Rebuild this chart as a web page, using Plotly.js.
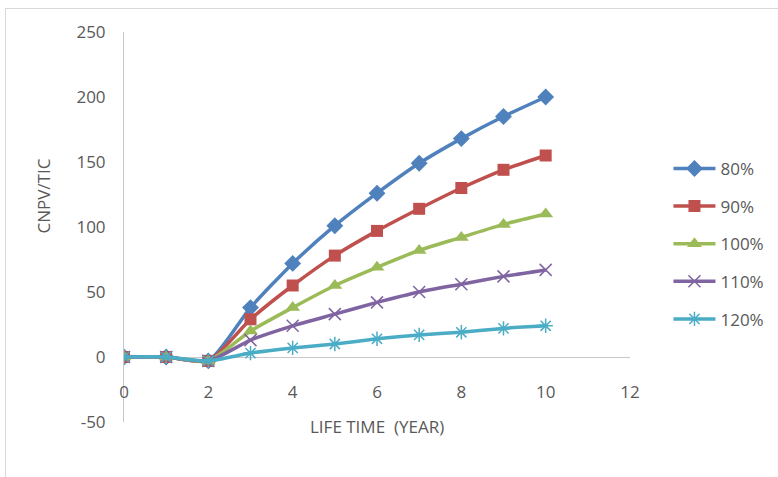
<!DOCTYPE html>
<html>
<head>
<meta charset="utf-8">
<script src="https://cdn.plot.ly/plotly-3.0.1.min.js"></script>
<style>
  html, body { margin: 0; padding: 0; background: #ffffff; }
  #wrap { position: relative; width: 778px; height: 477px; overflow: hidden; }
  #chart { width: 800px; height: 477px; }
  #frame {
    position: absolute; left: 5px; top: 8px; width: 800px; height: 500px;
    border-left: 1px solid #d9d9d9; border-top: 1px solid #d9d9d9;
    pointer-events: none;
  }
</style>
</head>
<body>
<div id="wrap">
  <div id="chart"></div>
  <div id="frame"></div>
</div>
<script>
// Life time in years
const years = [0, 1, 2, 3, 4, 5, 6, 7, 8, 9, 10];

// CNPV/TIC for each load level
const cnpv80  = [0, 0, -3, 38, 72, 101, 126, 149, 168, 185, 200];
const cnpv90  = [0, 0, -3, 29, 55, 78, 97, 114, 130, 144, 155];
const cnpv100 = [0, 0, -3, 20, 38, 55, 69, 82, 92, 102, 110];
const cnpv110 = [0, 0, -3, 13, 24, 33, 42, 50, 56, 62, 67];
const cnpv120 = [0, 0, -3, 3, 7, 10, 14, 17, 19, 22, 24];

const seriesNames = ['80%', '90%', '100%', '110%', '120%'];
const seriesValues = [cnpv80, cnpv90, cnpv100, cnpv110, cnpv120];
const seriesColors = ['#4F81BD', '#C0504D', '#9BBB59', '#8064A2', '#4BACC6'];
const seriesSymbols = ['diamond', 'square', 'triangle-up', 'x-thin-open', 'asterisk-open'];
const symbolSizes = [13, 12, 13, 12, 12];

const xTicks = [0, 2, 4, 6, 8, 10, 12];
const yTicks = [-50, 0, 50, 100, 150, 200, 250];

const textColor = '#595959';
const fontFamily = '"Open Sans", "Liberation Sans", sans-serif';

const traces = seriesNames.map((name, i) => ({
  type: 'scatter',
  mode: 'lines+markers',
  name: name,
  legendgroup: 'g' + i,
  x: years,
  y: seriesValues[i],
  line: { color: seriesColors[i], width: 3.5, shape: 'spline', smoothing: 0.6 },
  marker: {
    symbol: seriesSymbols[i],
    size: symbolSizes[i],
    color: seriesColors[i],
    line: { color: seriesColors[i], width: (i >= 3 ? 1.5 : 0) }
  }
}));

// The drawing is a little wider than the visible 778px window so the
// legend never forces the plot area to shrink.
const layout = {
  width: 800,
  height: 477,
  margin: { l: 124, r: 170, t: 32, b: 55 },
  paper_bgcolor: '#ffffff',
  plot_bgcolor: '#ffffff',
  font: { family: fontFamily, size: 17, color: textColor },
  showlegend: true,
  legend: {
    x: 1.076, xanchor: 'left',
    y: 0.695, yanchor: 'top',
    tracegroupgap: 12.5,
    itemwidth: 42,
    font: { family: fontFamily, size: 17, color: textColor },
    bgcolor: 'rgba(0,0,0,0)'
  },
  xaxis: {
    range: [0, 12],
    tickvals: xTicks,
    ticktext: xTicks.map(String),
    showgrid: false,
    zeroline: false,
    showline: false,
    ticks: '',
    anchor: 'free',
    position: 0.108,
    fixedrange: true
  },
  yaxis: {
    range: [-50, 250],
    tickvals: yTicks,
    ticktext: yTicks.map(String),
    showgrid: false,
    zeroline: true,
    zerolinecolor: '#c8c8c8',
    zerolinewidth: 1,
    showline: true,
    linecolor: '#c8c8c8',
    linewidth: 1,
    ticks: '',
    ticklabelstandoff: 14,
    fixedrange: true
  },
  annotations: [
    {
      text: 'CNPV/TIC', xref: 'paper', yref: 'paper',
      x: -0.186, y: 0.579, showarrow: false, textangle: -90,
      font: { family: fontFamily, size: 17, color: textColor }
    },
    {
      text: 'LIFE TIME  (YEAR)', xref: 'paper', yref: 'paper',
      x: 0.5, y: -0.046, showarrow: false,
      font: { family: fontFamily, size: 17, color: textColor }
    }
  ]
};

Plotly.newPlot('chart', traces, layout, { displayModeBar: false, staticPlot: true });
</script>
</body>
</html>
